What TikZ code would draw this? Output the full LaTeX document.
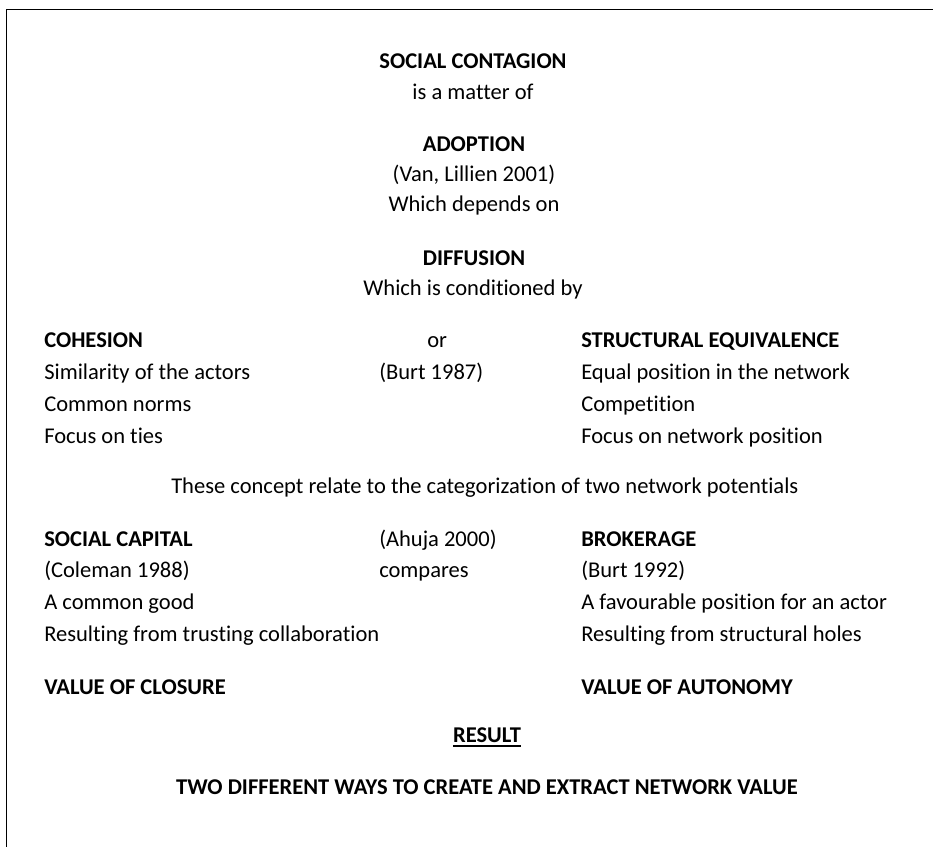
\documentclass[tikz,border=0pt]{standalone}
\usepackage{fontspec}
\setmainfont{Carlito}[Ligatures=NoCommon]
\usepackage{tikz}
\usetikzlibrary{positioning}
\definecolor{ink}{HTML}{000000}
\tikzset{
  rule/.style={draw=ink, line width=1pt},
  body/.style={text=ink, inner sep=0pt, font=\fontsize{16.9}{20}\selectfont},
  head/.style={body, font=\fontsize{16.9}{20}\selectfont\bfseries},
  mid/.style={anchor=base},
  col/.style={anchor=base west},
}

\begin{document}
\begin{tikzpicture}[x=0.75pt, y=-0.75pt]
  \useasboundingbox (0,0) rectangle (933,847);
  \draw[rule] (6.7,847) -- (6.7,9.3) -- (933,9.3);
  % centred chain at the top
  \node[head, mid] (contagion) at (473,68.3) {SOCIAL CONTAGION};
  \node[body, mid] (matter) at (473,99.3) {is a matter of};
  \node[head, mid] (adoption) at (474,151.7) {ADOPTION};
  \node[body, mid] (vanlil) at (474,181.7) {(Van, Lillien 2001)};
  \node[body, mid] (depends) at (474,211.7) {Which depends on};
  \node[head, mid] (diffusion) at (474,265) {DIFFUSION};
  \node[body, mid] (cond) at (473,295) {Which is conditioned by};
  % cohesion vs structural equivalence
  \node[head, col] (cohesion) at (44,347.7) {COHESION};
  \node[body, col] (or) at (427,347.7) {or};
  \node[head, col] (structeq) at (581,347.7) {STRUCTURAL EQUIVALENCE};
  \node[body, col] (burt87) at (379,379) {(Burt 1987)};
  \foreach \t/\y [count=\i] in {Similarity of the actors/379, Common norms/411, Focus on ties/443}
    \node[body, col] (coh\i) at (44,\y) {\t};
  \foreach \t/\y [count=\i] in {Equal position in the network/379, Competition/411, Focus on network position/443}
    \node[body, col] (seq\i) at (581,\y) {\t};
  \node[body, col] (concepts) at (171,493) {These concept relate to the categorization of two network potentials};
  % social capital vs brokerage
  \node[head, col] (socap) at (44,546) {SOCIAL CAPITAL};
  \node[body, col] (ahuja) at (379,546) {(Ahuja 2000)};
  \node[head, col] (brokerage) at (581,546) {BROKERAGE};
  \node[body, col] (compares) at (379,577) {compares};
  \foreach \t/\y [count=\i] in {(Coleman 1988)/577, A common good/609, Resulting from trusting collaboration/641}
    \node[body, col] (cap\i) at (44,\y) {\t};
  \foreach \t/\y [count=\i] in {(Burt 1992)/577, A favourable position for an actor/609, Resulting from structural holes/641}
    \node[body, col] (brk\i) at (581,\y) {\t};
  \node[head, col] (closure) at (44,694) {VALUE OF CLOSURE};
  \node[head, col] (autonomy) at (581,694) {VALUE OF AUTONOMY};
  % result
  \node[head, mid] (result) at (487,742.7) {RESULT};
  \draw[ink, line width=1.5pt] ([yshift=-2.6pt]result.base west) -- ([yshift=-2.6pt]result.base east);
  \node[head, mid] (twoways) at (487,794) {TWO DIFFERENT WAYS TO CREATE AND EXTRACT NETWORK VALUE};
\end{tikzpicture}
\end{document}
